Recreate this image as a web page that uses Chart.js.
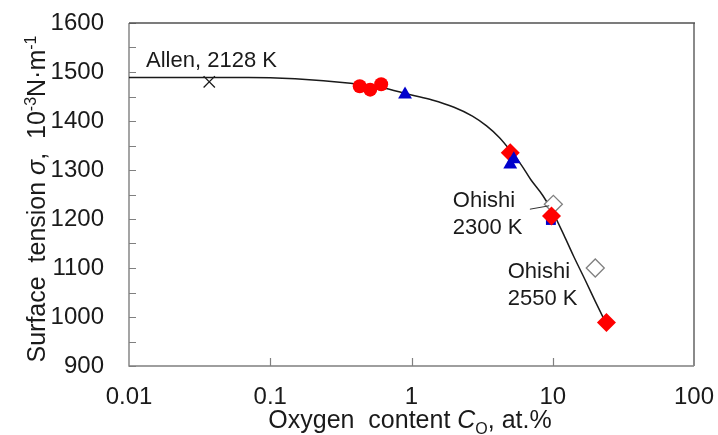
<!DOCTYPE html>
<html>
<head>
<meta charset="utf-8">
<script src="https://cdn.jsdelivr.net/npm/chart.js@4/dist/chart.umd.min.js"></script>
<style>
  html, body { margin: 0; padding: 0; background: #fff; }
  canvas { display: block; }
</style>
</head>
<body>
<canvas id="chart" width="718" height="435"></canvas>
<script>
// Axis ticks
const xTicks = [0.01, 0.1, 1, 10, 100];
const yTicks = [900, 1000, 1100, 1200, 1300, 1400, 1500, 1600];
const yMinorTicks = [950, 1050, 1150, 1250, 1350, 1450, 1550];

// Fitted curve
const curveX = [0.01, 0.03, 0.07, 0.15, 0.37, 0.6, 1, 1.4, 2, 2.7, 3.4, 4.2, 5, 6, 7, 8.5, 10, 12, 14, 17, 20, 24];
const curveY = [1489, 1489, 1489, 1486, 1477, 1469, 1453, 1443, 1428, 1410, 1390, 1366, 1340, 1310, 1280, 1248, 1214, 1167, 1125, 1075, 1032, 985];

// Measured points
const allenX = [0.037];
const allenY = [1480];
const circleX = [0.43, 0.51, 0.61];
const circleY = [1471, 1464, 1475];
const triangleX = [0.9, 5.0, 5.3];
const triangleY = [1454, 1311, 1322];
const squareX = [9.7];
const squareY = [1198];
const diamondX = [5.0, 9.8, 24];
const diamondY = [1335, 1206, 989];
const openX = [10.1, 20];
const openY = [1230, 1100];

// Annotations (data coordinates)
const notes = [
  { text: "Allen, 2128 K", x: 0.0132, y: 1522 },
  { text: "Ohishi", x: 1.96, y: 1236 },
  { text: "2300 K", x: 1.96, y: 1181 },
  { text: "Ohishi", x: 4.8, y: 1091 },
  { text: "2550 K", x: 4.8, y: 1036 },
];
const leaderX = [6.89, 9.44];
const leaderY = [1220, 1227];

const FONT = "'Liberation Sans', Arial, sans-serif";
const pts = (xs, ys) => xs.map((x, i) => ({ x: x, y: ys[i] }));

// draw text made of plain / italic / sub / sup pieces, centered on 0
function drawRich(ctx, parts, size, baseline) {
  const fontFor = (p) => {
    const s = p.sup || p.sub ? Math.round(size * 0.62) : size;
    return (p.italic ? "italic " : "") + s + "px " + FONT;
  };
  let total = 0;
  parts.forEach((p) => {
    ctx.font = fontFor(p);
    p.w = ctx.measureText(p.t).width;
    total += p.w;
  });
  let x = -total / 2;
  parts.forEach((p) => {
    ctx.font = fontFor(p);
    let dy = 0;
    if (p.sup) dy = -size * 0.38;
    if (p.sub) dy = size * 0.22;
    ctx.fillText(p.t, x, baseline + dy);
    x += p.w;
  });
}

const decorations = {
  id: "decorations",
  beforeDatasetsDraw(chart) {
    const { ctx, chartArea: a, scales } = chart;
    ctx.save();
    // inward tick marks
    ctx.strokeStyle = "#808080";
    ctx.lineWidth = 1.2;
    ctx.beginPath();
    yTicks.concat(yMinorTicks).forEach((v) => {
      const py = Math.round(scales.y.getPixelForValue(v)) + 0.5;
      ctx.moveTo(a.left, py);
      ctx.lineTo(a.left + 7, py);
    });
    xTicks.slice(1, -1).forEach((v) => {
      const px = Math.round(scales.x.getPixelForValue(v)) + 0.5;
      ctx.moveTo(px, a.bottom);
      ctx.lineTo(px, a.bottom - 8);
    });
    ctx.stroke();
    // frame
    ctx.lineWidth = 1.4;
    ctx.strokeStyle = "#7f7f7f";
    ctx.beginPath();
    ctx.moveTo(a.left, a.top);
    ctx.lineTo(a.left, a.bottom);
    ctx.lineTo(a.right, a.bottom);
    ctx.stroke();
    ctx.lineWidth = 2;
    ctx.strokeStyle = "#8a8a8a";
    ctx.beginPath();
    ctx.moveTo(a.right, a.bottom);
    ctx.lineTo(a.right, a.top);
    ctx.stroke();
    ctx.lineWidth = 1.4;
    ctx.strokeStyle = "#505050";
    ctx.beginPath();
    ctx.moveTo(a.left, a.top);
    ctx.lineTo(a.right + 1, a.top);
    ctx.stroke();
    ctx.restore();
  },
  afterDraw(chart) {
    const { ctx, scales } = chart;
    ctx.save();
    ctx.fillStyle = "#1a1a1a";
    ctx.textBaseline = "middle";
    ctx.textAlign = "left";
    ctx.font = "22px " + FONT;
    notes.forEach((n) => {
      ctx.fillText(n.text, scales.x.getPixelForValue(n.x), scales.y.getPixelForValue(n.y));
    });
    // leader line for Ohishi 2300 K
    ctx.strokeStyle = "#333";
    ctx.lineWidth = 1;
    ctx.beginPath();
    ctx.moveTo(scales.x.getPixelForValue(leaderX[0]), scales.y.getPixelForValue(leaderY[0]));
    ctx.lineTo(scales.x.getPixelForValue(leaderX[1]), scales.y.getPixelForValue(leaderY[1]));
    ctx.stroke();

    // axis titles
    ctx.textBaseline = "alphabetic";
    ctx.textAlign = "left";
    ctx.save();
    ctx.translate(410, 0);
    drawRich(ctx, [
      { t: "Oxygen  content " },
      { t: "C", italic: true },
      { t: "O", sub: true },
      { t: ", at.%" },
    ], 25, 428);
    ctx.restore();

    ctx.save();
    ctx.translate(45, 199);
    ctx.rotate(-Math.PI / 2);
    drawRich(ctx, [
      { t: "Surface  tension " },
      { t: "σ", italic: true },
      { t: ",  10" },
      { t: "-3", sup: true },
      { t: "N·m" },
      { t: "-1", sup: true },
    ], 25, 0);
    ctx.restore();
    ctx.restore();
  },
};

Chart.defaults.font.family = FONT;
Chart.defaults.color = "#1a1a1a";

new Chart(document.getElementById("chart"), {
  type: "scatter",
  data: {
    datasets: [
      {
        type: "line",
        data: pts(curveX, curveY),
        borderColor: "#1a1a1a",
        borderWidth: 1.5,
        pointRadius: 0,
        fill: false,
        cubicInterpolationMode: "monotone",
        order: 10,
      },
      {
        data: pts(openX, openY),
        pointStyle: "rectRot",
        pointRadius: 9,
        backgroundColor: "#ffffff",
        borderColor: "#808080",
        borderWidth: 1.3,
        order: 9,
      },
      {
        data: pts(squareX, squareY),
        pointStyle: "rect",
        pointRadius: 7,
        backgroundColor: "#0000cc",
        borderColor: "#0000cc",
        borderWidth: 0,
        order: 8,
      },
      {
        data: pts(diamondX, diamondY),
        pointStyle: "rectRot",
        pointRadius: 9.5,
        backgroundColor: "#ff0000",
        borderColor: "#ff0000",
        borderWidth: 0,
        order: 7,
      },
      {
        data: pts(triangleX, triangleY),
        pointStyle: "triangle",
        pointRadius: 8,
        backgroundColor: "#0000cc",
        borderColor: "#0000cc",
        borderWidth: 0,
        order: 6,
      },
      {
        data: pts(circleX, circleY),
        pointStyle: "circle",
        pointRadius: 7,
        backgroundColor: "#ff0000",
        borderColor: "#ff0000",
        borderWidth: 0,
        order: 5,
      },
      {
        data: pts(allenX, allenY),
        pointStyle: "crossRot",
        pointRadius: 8,
        borderColor: "#1a1a1a",
        borderWidth: 1.3,
        order: 4,
      },
    ],
  },
  options: {
    responsive: false,
    animation: false,
    events: [],
    layout: { padding: { left: 0, right: 24, top: 23, bottom: 0 } },
    plugins: {
      legend: { display: false },
      tooltip: { enabled: false },
    },
    scales: {
      x: {
        type: "logarithmic",
        min: 0.01,
        max: 100,
        grid: { display: false, drawTicks: false },
        border: { display: false },
        afterBuildTicks: (scale) => {
          scale.ticks = xTicks.map((v) => ({ value: v }));
        },
        afterFit: (scale) => {
          // fixed plot frame: drop the label overflow padding
          scale.height = 69;
          scale.paddingLeft = 0;
          scale.paddingRight = 0;
        },
        ticks: {
          padding: 17,
          maxRotation: 0,
          autoSkip: false,
          font: { size: 24 },
          callback: (v) => String(v),
        },
      },
      y: {
        min: 900,
        max: 1600,
        grid: { display: false, drawTicks: false },
        border: { display: false },
        afterBuildTicks: (scale) => {
          scale.ticks = yTicks.map((v) => ({ value: v }));
        },
        afterFit: (scale) => {
          scale.width = 129;
          scale.paddingTop = 0;
          scale.paddingBottom = 0;
        },
        ticks: {
          padding: 25,
          font: { size: 24 },
          callback: (v) => String(v),
        },
      },
    },
  },
  plugins: [decorations],
});
</script>
</body>
</html>
